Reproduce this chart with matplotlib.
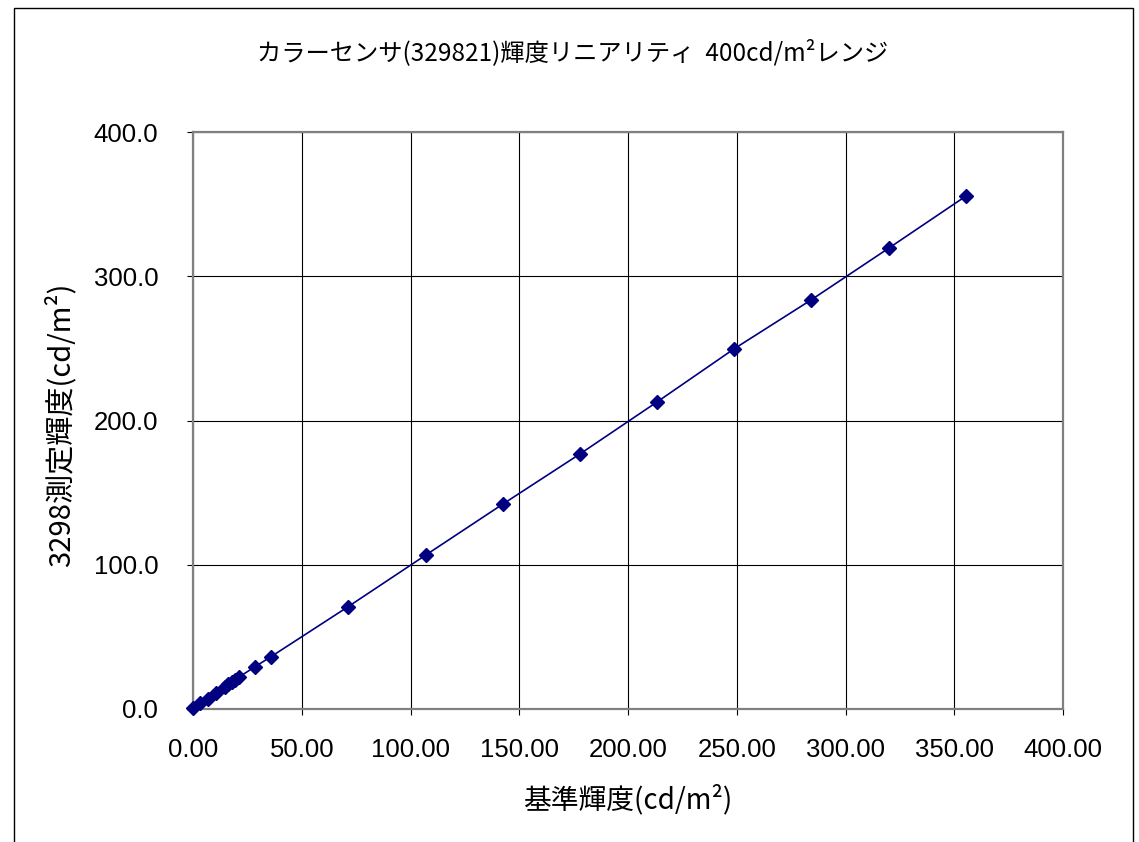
import matplotlib
matplotlib.use("Agg")
import matplotlib.pyplot as plt
from matplotlib.patches import Rectangle
from matplotlib.ticker import FixedLocator, FormatStrFormatter

plt.rcParams['font.family'] = ['Noto Sans CJK JP', 'DejaVu Sans']

ref_lum = [0.2, 3.4, 7.0, 10.8, 14.5, 16.2, 17.8, 19.4, 21.0, 28.5, 35.9,
           71.4, 107.1, 142.5, 177.9, 213.3, 248.7, 284.1, 320.0, 355.4]
meas_lum = [0.5, 3.9, 6.9, 11.2, 15.3, 17.0, 18.8, 20.3, 22.0, 29.3, 36.3,
            71.0, 106.8, 142.1, 176.8, 212.8, 249.6, 283.5, 319.6, 355.6]

x_ticks = [0, 50, 100, 150, 200, 250, 300, 350, 400]
y_ticks = [0, 100, 200, 300, 400]

title = "カラーセンサ(329821)輝度リニアリティ  400cd/m²レンジ"
xlabel = "基準輝度(cd/m²)"
ylabel = "3298測定輝度(cd/m²)"

W, H = 1139, 842
fig = plt.figure(figsize=(W / 100, H / 100), dpi=100)
fig.patch.set_facecolor('white')

# outer chart border
fig.patches.append(Rectangle((14 / W, -0.05), (1133 - 14) / W, (H - 8) / H + 0.05,
                             transform=fig.transFigure, fill=False,
                             edgecolor='black', linewidth=1.0))

ax = fig.add_axes([193 / W, (H - 709) / H, (1063 - 193) / W, (709 - 132) / H])
ax.set_xlim(0, 400)
ax.set_ylim(0, 400)

ax.plot(ref_lum, meas_lum, color='#000080', linewidth=1.2, marker='D',
        markersize=7.5, markerfacecolor='#000080', markeredgecolor='#000080',
        clip_on=False, zorder=3)

ax.xaxis.set_major_locator(FixedLocator(x_ticks))
ax.yaxis.set_major_locator(FixedLocator(y_ticks))
ax.xaxis.set_major_formatter(FormatStrFormatter('%.2f'))
ax.yaxis.set_major_formatter(FormatStrFormatter('%.1f'))
ax.grid(True, color='black', linewidth=0.8)
ax.set_axisbelow(True)

for s in ax.spines.values():
    s.set_color('#808080')
    s.set_linewidth(1.6)

ax.tick_params(axis='x', length=4, direction='out', pad=17, labelsize=18.5, color='black')
ax.tick_params(axis='y', length=4, direction='out', pad=21, labelsize=18.5, color='black')
for lab in ax.get_xticklabels() + ax.get_yticklabels():
    lab.set_family(['Liberation Sans', 'DejaVu Sans'])

ax.set_xlabel(xlabel, fontsize=20, va='center', ha='center')
ax.xaxis.set_label_coords(0.5, (709 - 800) / 577)
ax.set_ylabel(ylabel, fontsize=21, va='center', ha='center')
ax.yaxis.set_label_coords((61 - 193) / 870, 0.5 - (425 - 420.5) / 577)

fig.text(573 / W, 1 - 53 / H, title, ha='center', va='center', fontsize=17.5)

fig.savefig('out.png', dpi=100)
